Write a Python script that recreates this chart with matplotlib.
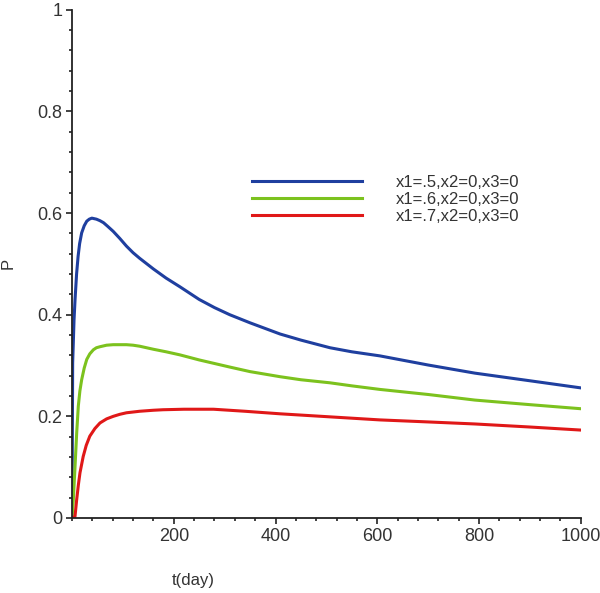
import numpy as np
import matplotlib.pyplot as plt
from matplotlib.ticker import MultipleLocator

# values
t_blue = [0, 1.3, 4, 6, 9, 12, 15, 19, 24, 29, 34, 39, 48, 55, 62, 70, 81, 94, 107, 120, 133, 160, 185,
          212, 250, 280, 310, 350, 409, 450, 507, 550, 605, 700, 792, 900, 1000]
p_blue = [0, 0.305, 0.39, 0.43, 0.48, 0.515, 0.54, 0.561, 0.575, 0.584, 0.588, 0.590, 0.588, 0.585,
          0.581, 0.574, 0.564, 0.550, 0.535, 0.522, 0.511, 0.490, 0.472, 0.455, 0.430, 0.414, 0.400,
          0.384, 0.362, 0.350, 0.335, 0.327, 0.319, 0.301, 0.285, 0.270, 0.256]

t_green = [0, 2.6, 5.9, 9.2, 12.4, 15.5, 19, 24, 29, 35, 42, 48, 55, 68, 81, 94, 107, 120, 133, 160,
           185, 212, 250, 280, 310, 350, 409, 450, 507, 550, 605, 700, 792, 900, 1000]
p_green = [0, 0.036, 0.10, 0.167, 0.22, 0.25, 0.272, 0.295, 0.312, 0.323, 0.331, 0.335, 0.337, 0.340,
           0.341, 0.341, 0.341, 0.340, 0.338, 0.332, 0.327, 0.321, 0.311, 0.304, 0.297, 0.288, 0.278,
           0.272, 0.266, 0.260, 0.253, 0.243, 0.232, 0.223, 0.215]

t_red = [0, 5.9, 9.2, 12.5, 15.7, 22, 28, 35, 45, 55, 68, 81, 94, 107, 133, 160, 179, 220, 278, 340,
         409, 507, 605, 700, 792, 900, 1000]
p_red = [0, 0.003, 0.036, 0.065, 0.089, 0.121, 0.143, 0.161, 0.176, 0.187, 0.195, 0.200, 0.204, 0.207,
         0.210, 0.212, 0.213, 0.214, 0.214, 0.210, 0.205, 0.199, 0.193, 0.189, 0.185, 0.179, 0.173]

labels = ["x1=.5,x2=0,x3=0", "x1=.6,x2=0,x3=0", "x1=.7,x2=0,x3=0"]
colors = ["#1f3f9f", "#7cc21e", "#e01818"]

plt.rcParams['font.family'] = ['Liberation Sans', 'DejaVu Sans']

fig = plt.figure(figsize=(6, 5.93), dpi=100)
ax = fig.add_axes([0.12, 0.1265, 0.848, 0.857])

for t, p, c, lab in zip([t_blue, t_green, t_red], [p_blue, p_green, p_red], colors, labels):
    ax.plot(t, p, color=c, lw=2.2, label=lab, solid_joinstyle='round')

ax.set_xlim(0, 1000)
ax.set_ylim(0, 1)
ax.spines['top'].set_visible(False)
ax.spines['right'].set_visible(False)
for s in ['left', 'bottom']:
    ax.spines[s].set_linewidth(1.3)
    ax.spines[s].set_color('#222222')

ax.xaxis.set_minor_locator(MultipleLocator(40))
ax.yaxis.set_minor_locator(MultipleLocator(0.04))
ax.set_xticks([200, 400, 600, 800, 1000])
ax.set_xticklabels(["200", "400", "600", "800", "1000"])
ax.set_yticks([0, 0.2, 0.4, 0.6, 0.8, 1])
ax.set_yticklabels(["0", "0.2", "0.4", "0.6", "0.8", "1"])
ax.tick_params(which='major', length=4, width=1.2, labelsize=13, labelcolor='#333333', color='#222222', pad=3)
ax.tick_params(which='minor', length=2.5, width=1.2, color='#222222')

fig.text(193 / 600, 1 - 580 / 593, "t(day)", fontsize=12, color='#333333', ha='center', va='center')
fig.text(8 / 600, 1 - 263 / 593, "P", fontsize=12, color='#333333', ha='center', va='center', rotation=90)

ax.legend(loc='upper left', bbox_to_anchor=(252 / 600, 1 - 175 / 593), bbox_transform=fig.transFigure,
          frameon=False, fontsize=12, handlelength=6.6, handletextpad=2.0, labelspacing=0.12,
          borderpad=0, borderaxespad=0, labelcolor='#333333')

fig.savefig("out.png", dpi=100)
